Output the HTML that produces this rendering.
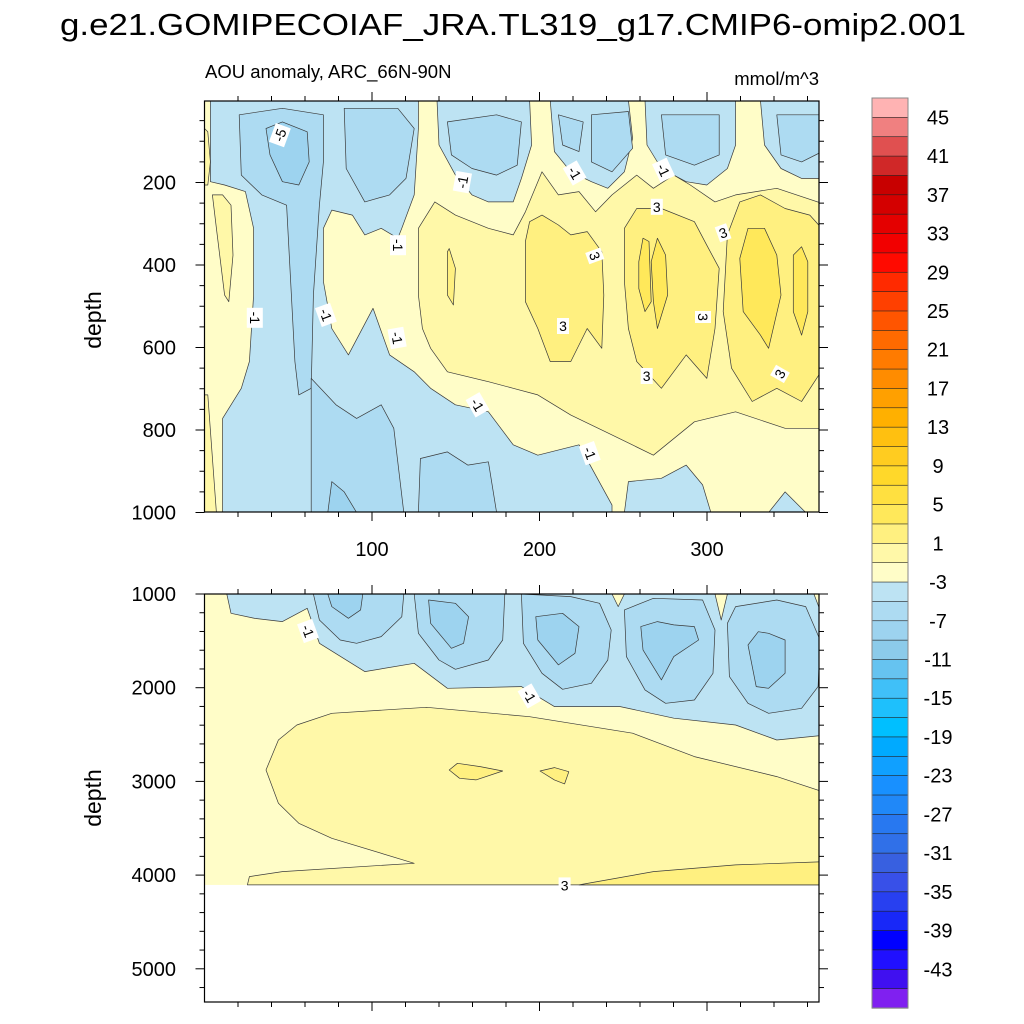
<!DOCTYPE html>
<html><head><meta charset="utf-8"><title>AOU anomaly ARC</title>
<style>
html,body{margin:0;padding:0;background:#fff;}
svg{display:block;font-family:"Liberation Sans",sans-serif;}
</style></head>
<body>
<svg id="chart" width="1024" height="1024" viewBox="0 0 1024 1024" xmlns="http://www.w3.org/2000/svg">
<defs>
<clipPath id="clipTop"><rect x="204.5" y="101" width="614.5" height="411"/></clipPath>
<clipPath id="clipBot"><rect x="204.5" y="594" width="614.5" height="408"/></clipPath>
</defs>
<text x="60" y="35" font-size="30.5" textLength="906" lengthAdjust="spacingAndGlyphs">g.e21.GOMIPECOIAF_JRA.TL319_g17.CMIP6-omip2.001</text>
<text x="205" y="78" font-size="18.5">AOU anomaly, ARC_66N-90N</text>
<text x="819" y="85" font-size="18.5" text-anchor="end">mmol/m^3</text>
<text transform="translate(101,320) rotate(-90)" font-size="23" text-anchor="middle">depth</text>
<text transform="translate(101,798) rotate(-90)" font-size="23" text-anchor="middle">depth</text>
<g id="topFill" clip-path="url(#clipTop)"></g>
<g id="botFill" clip-path="url(#clipBot)"></g>
<g id="labels"></g>
<g id="axes"></g>
<g id="cbar"></g>
</svg>
<script>
// ---- data ----
const levelColors = ["#ffb3b3","#f08080","#e05050","#d02828","#c80000","#d40000","#e40000","#f20000","#ff0a00","#ff2a00","#ff4000","#ff5500","#ff6a00","#ff7b00","#ff8c00","#ffa000","#ffb000","#ffc010","#ffcc20","#ffd82a","#ffe040","#ffe85a","#fff080","#fff8a8","#fffdc8","#bde3f3","#addbf2","#9dd3ef","#8ccbea","#66c3f0","#40c0f8","#1ec0fc","#00bfff","#00aaff","#10a0ff","#1890ff","#2088f8","#2878f0","#3070e8","#3860e0","#3850e8","#2840f0","#1828f8","#0000ff","#2010ff","#4010f0","#8020f0"];
const cbarLabels = [45,41,37,33,29,25,21,17,13,9,5,1,-3,-7,-11,-15,-19,-23,-27,-31,-35,-39,-43];
const topTicks = [200,400,600,800,1000];
const botTicks = [1000,2000,3000,4000,5000];
const dayTicks = [100,200,300];

const topRegions = [
 {lvl:-1, pts:[[3.5,0],[127.7,0],[127.7,69],[125.2,230],[117.8,311],[115.4,335],[105.5,311],[95.7,327],[88.3,279],[76,267],[71,311],[71,440],[76,554],[85.9,618],[100.6,505],[110.5,618],[125.2,659],[135,699],[149.8,739],[169.5,756],[184.3,836],[199,861],[223.6,836],[243.3,982],[243.3,1000],[10.8,1000],[10.8,772],[22,699],[26.8,634],[29.3,473],[29.3,311],[24.4,222],[12,206],[3.5,198]]},
 {lvl:-1, pts:[[250.7,1000],[253.1,925],[272.8,917],[287.6,885],[297.4,933],[302.3,1000]]},
 {lvl:-1, pts:[[336.8,1000],[346.6,950],[358.9,1000]]},
 {lvl:-1, pts:[[138.8,0],[140,109],[149.8,182],[159.7,230],[169.5,247],[184.3,247],[189.2,190],[195.3,109],[194.1,0]]},
 {lvl:-1, pts:[[206.4,0],[208.9,125],[218.7,174],[231,198],[240.8,214],[250.7,174],[255.6,93],[253.1,0]]},
 {lvl:-1, pts:[[263,0],[264.2,109],[272.8,166],[287.6,198],[299.9,206],[312.2,166],[317.1,109],[317.1,0]]},
 {lvl:-1, pts:[[331.9,0],[334.3,109],[344.2,166],[356.5,190],[372,190],[372,0]]},
 {lvl:-3, pts:[[20.7,36],[22,182],[34.2,230],[49,255],[54,634],[56.3,715],[63.7,699],[65,473],[68.6,255],[71,150],[71,36],[46.5,20]]},
 {lvl:-3, pts:[[83.4,20],[84.6,166],[95.7,247],[110.5,230],[120.3,190],[125.2,69],[115.4,20]]},
 {lvl:-3, pts:[[63.7,1000],[63.7,675],[78.5,739],[90.8,772],[105.5,739],[113,796],[119,1000]]},
 {lvl:-3, pts:[[127.7,1000],[128.9,869],[145,853],[157.2,885],[169.5,877],[174.4,1000]]},
 {lvl:-3, pts:[[145,53],[147.4,133],[159.7,166],[174.4,182],[186.7,158],[189.2,53],[174.4,36]]},
 {lvl:-3, pts:[[231,36],[231,150],[243.3,174],[255.6,117],[253.1,28]]},
 {lvl:-3, pts:[[211.3,36],[213.8,109],[223.6,125],[226.1,53]]},
 {lvl:-3, pts:[[272.8,36],[275.3,133],[292.5,158],[307.3,133],[307.3,36]]},
 {lvl:-3, pts:[[341.7,36],[344.2,133],[356.5,150],[368.8,125],[368.8,36]]},
 {lvl:-5, pts:[[36.7,69],[39.1,133],[46.5,198],[56.3,206],[62.5,150],[61.3,77],[46.5,53]]},
 {lvl:-5, pts:[[73.6,1000],[76,925],[83.4,950],[90.8,1000]]},
 {lvl:1, pts:[[127.7,311],[137.5,247],[149.8,279],[169.5,311],[184.3,327],[191.6,271],[201.5,174],[211.3,230],[223.6,222],[233.5,271],[243.3,230],[258,182],[268,214],[280.2,182],[290,206],[304.8,247],[317.1,230],[341.7,214],[372,255],[372,796],[346.6,796],[317.1,756],[292.5,780],[268,861],[243.3,812],[218.7,764],[199,715],[184.3,699],[169.5,683],[145,659],[135,602],[130.1,554],[127.7,473]]},
 {lvl:1, pts:[[4.7,230],[7.1,311],[12,473],[14.5,489],[17,376],[15.8,255],[10.8,230]]},
 {lvl:1, pts:[[0,715],[2,715],[7.1,1000],[0,1000]]},
 {lvl:1, pts:[[0,69],[2,77],[3.5,150],[2,206],[0,206]]},
 {lvl:3, pts:[[191.6,343],[194.1,295],[201.5,279],[211.3,303],[218.7,327],[228.5,319],[237.2,368],[238.4,473],[237.2,602],[228.5,554],[218.7,634],[206.4,634],[199,554],[191.6,489]]},
 {lvl:3, pts:[[250.7,311],[258,263],[272.8,263],[292.5,295],[299.9,352],[307.3,408],[304.8,554],[299.9,675],[287.6,618],[272.8,699],[258,634],[253.1,554],[250.7,440]]},
 {lvl:3, pts:[[312.2,327],[319.6,247],[331.9,230],[346.6,263],[361.4,279],[372,327],[372,634],[356.5,731],[341.7,699],[327,731],[314.6,650],[309.7,513]]},
 {lvl:3, pts:[[145,368],[146.1,360],[149.8,408],[148.6,497],[145,473]]},
 {lvl:5, pts:[[259.3,392],[261.8,335],[265.4,343],[266.7,489],[263,513],[259.3,457]]},
 {lvl:5, pts:[[266.7,392],[270.4,335],[275.3,376],[276.5,473],[270.4,554],[268,489]]},
 {lvl:5, pts:[[319.6,384],[324.5,311],[334.3,311],[341.7,376],[344.2,473],[336.8,602],[331.9,570],[321.6,513]]},
 {lvl:5, pts:[[351.5,376],[356.5,356],[360.2,392],[360.2,513],[356.5,570],[351.5,513]]}
];
const botRegions = [
 {lvl:-1, pts:[[13.3,1000],[15.8,1206],[30,1260],[46.5,1295],[61.3,1153],[68.6,1526],[95.7,1828],[125.2,1740],[145,2006],[189.2,1988],[208.9,2202],[248.2,2202],[280.2,2326],[317.1,2398],[341.7,2558],[372,2504],[372,1384],[363.8,1000]]},
 {lvl:0, pts:[[243.3,1000],[247,1135],[250.7,1000]]},
 {lvl:0, pts:[[304.8,1000],[308.5,1277],[312.2,1000]]},
 {lvl:-3, pts:[[65,1000],[68.6,1277],[81,1491],[90.8,1526],[105.5,1455],[117.8,1242],[119,1000]]},
 {lvl:-3, pts:[[125.2,1000],[127.7,1419],[140,1704],[149.8,1804],[169.5,1704],[178,1491],[179.3,1000]]},
 {lvl:-3, pts:[[189.2,1000],[190.4,1526],[201.5,1846],[213.8,2017],[231,1953],[240.8,1704],[242.8,1384],[235.9,1099],[218.7,1028]]},
 {lvl:-3, pts:[[250.7,1170],[251.9,1668],[263,2024],[275.3,2166],[292.5,2131],[303.6,1846],[304.8,1384],[297.4,1064],[268,1046]]},
 {lvl:-3, pts:[[312.2,1313],[313.4,1882],[324.5,2166],[336.8,2273],[356.5,2220],[366.3,1988],[367.5,1491],[358.9,1135],[341.7,1064],[317.1,1135]]},
 {lvl:-5, pts:[[73.6,1000],[76,1135],[85.9,1259],[93.2,1170],[94.5,1000]]},
 {lvl:-5, pts:[[133.8,1064],[135,1313],[147.4,1579],[154.7,1526],[157.7,1242],[149.8,1099]]},
 {lvl:-5, pts:[[197.8,1242],[199,1491],[211.3,1757],[221.2,1633],[223.6,1348],[213.8,1206]]},
 {lvl:-5, pts:[[260.5,1348],[261.8,1597],[272.8,1917],[280.2,1668],[295,1491],[292.5,1348],[280.2,1330],[270.4,1295]]},
 {lvl:-5, pts:[[324.5,1544],[329.4,1988],[336.8,2006],[346.6,1846],[346.6,1491],[336.8,1419],[330.6,1402]]},
 {lvl:1, pts:[[36.7,2878],[44.1,2558],[55.1,2398],[76,2273],[132.6,2209],[194.1,2309],[255.6,2486],[292.5,2735],[341.7,2949],[372,3127],[372,4105],[25.6,4105],[26.8,4016],[46.5,3963],[125.2,3874],[76,3607],[56.3,3447],[44.1,3233]]},
 {lvl:3, pts:[[223.6,4105],[268,3963],[317.1,3891],[372,3856],[372,4105]]},
 {lvl:3, pts:[[146.1,2878],[151,2807],[164.6,2842],[178,2889],[162.1,2984],[152.3,2967]]},
 {lvl:3, pts:[[200.3,2889],[208.9,2853],[217.5,2896],[215,3027],[208.9,2984]]}
];
const topLabels = [["-5",45,85,-70],["-1",154,199,-80],["-1",221,177,60],["-1",274,170,65],["3",270,259,0],["-1",115.5,352,90],["3",309.6,322,-20],["3",233,378,70],["-1",30,528,90],["-1",72.5,521,70],["3",214,548,0],["-1",115,577,80],["3",297.6,526,90],["3",264,669,0],["3",343.6,664,-60],["-1",163,739,60],["-1",230,856,70]];
const botLabels = [["-1",61.8,1395,70],["-1",194,2089,60],["3",215,4110,0]];

// ---- axes functions ----
const X0=204.5, XS=1.675, XMAX=819;
function xs(d){return X0+XS*d;}
function yTop(z){return 100+0.4125*z;}
function yBot(z){return 594+(z-1000)*0.0937;}
const NS="http://www.w3.org/2000/svg";
function mk(tag,attrs,parent){const e=document.createElementNS(NS,tag);for(const k in attrs)e.setAttribute(k,attrs[k]);parent.appendChild(e);return e;}
function colorFor(lvl){
  let idx;
  if(lvl===0) idx=24; else if(lvl>0) idx=24-((lvl+1)/2); else idx=24+((-lvl+1)/2);
  return levelColors[idx];
}

function drawPanel(gid, regions, yfn, zTop, zBot, bgName){
  const g=document.getElementById(gid);
  const bg=mk('rect',{x:xs(0),y:yfn(zTop),width:XMAX-xs(0),height:yfn(zBot)-yfn(zTop),fill:levelColors[24]},g);
  
  
  regions.forEach(r=>{
    const p=mk('polygon',{points:r.pts.map(q=>xs(q[0]).toFixed(1)+','+yfn(q[1]).toFixed(1)).join(' '),fill:colorFor(r.lvl),stroke:'#3a3a3a','stroke-width':0.7,'stroke-linejoin':'round'},g);
    
    
  });
}
drawPanel('topFill', topRegions, yTop, 0, 1000, 'top-panel-background');
drawPanel('botFill', botRegions, yBot, 1000, 4105, 'bottom-panel-background');

const lg=document.getElementById('labels');
function lab(arr,yfn){arr.forEach(l=>{
  const cx=xs(l[1]), cy=yfn(l[2]);
  const gg=mk('g',{transform:`translate(${cx.toFixed(1)},${cy.toFixed(1)}) rotate(${l[3]})`},lg);
  
  
  const w=l[0].length*8+4;
  mk('rect',{x:-w/2,y:-8,width:w,height:16,fill:'#fff'},gg);
  const t=mk('text',{x:0,y:5,'font-size':14,'text-anchor':'middle',fill:'#000'},gg);
  t.textContent=l[0];
});}
lab(topLabels,yTop); lab(botLabels,yBot);

const ax=document.getElementById('axes');
function frame(y1,y2,name){const r=mk('rect',{x:xs(0),y:y1,width:XMAX-xs(0),height:y2-y1,fill:'none',stroke:'#000','stroke-width':1.2},ax);
  
  }
frame(101,512,'top-panel-frame'); frame(594,1002,'bottom-panel-frame');
function line(x1,y1,x2,y2){mk('line',{x1,y1,x2,y2,stroke:'#000','stroke-width':1},ax);}
[[101,-1],[512,1],[594,-1],[1002,1]].forEach(([y,dir])=>{
  for(let d=20; d<=366; d+=20){const x=xs(d); const maj=(d%100===0); line(x,y,x,y+dir*(maj?9:5));}
});
dayTicks.forEach(d=>{const t=mk('text',{x:xs(d),y:556,'font-size':20,'text-anchor':'middle'},ax);
  
  
  t.textContent=d;});
for(let z=50; z<=1000; z+=50){const y=yTop(z); const maj=(z%200===0); const L=maj?9:5; line(xs(0),y,xs(0)-L,y); line(XMAX,y,XMAX+L,y);}
topTicks.forEach(z=>{const t=mk('text',{x:176,y:yTop(z)+7,'font-size':20,'text-anchor':'end'},ax);
  
  
  t.textContent=z;});
for(let z=1000; z<=5300; z+=200){const y=yBot(z); const maj=(z%1000===0); const L=maj?9:5; line(xs(0),y,xs(0)-L,y); line(XMAX,y,XMAX+L,y);}
botTicks.forEach(z=>{const t=mk('text',{x:176,y:yBot(z)+7,'font-size':20,'text-anchor':'end'},ax);
  
  
  t.textContent=z;});

const cb=document.getElementById('cbar');
const CB_Y0=98, CB_H=910, n=levelColors.length, bh=CB_H/n;
levelColors.forEach((c,i)=>{
  const r=mk('rect',{x:872,y:(CB_Y0+i*bh).toFixed(2),width:36,height:(bh+0.3).toFixed(2),fill:c,stroke:'#222','stroke-width':0.6},cb);
  
  
});
mk('rect',{x:872,y:CB_Y0,width:36,height:CB_H,fill:'none',stroke:'#888','stroke-width':1},cb);
cbarLabels.forEach((v,k)=>{
  const i=1+2*k;
  const t=mk('text',{x:938,y:(CB_Y0+i*bh+7).toFixed(1),'font-size':20,'text-anchor':'middle'},cb);
  
  
  t.textContent=v;
});
</script>
</body></html>
